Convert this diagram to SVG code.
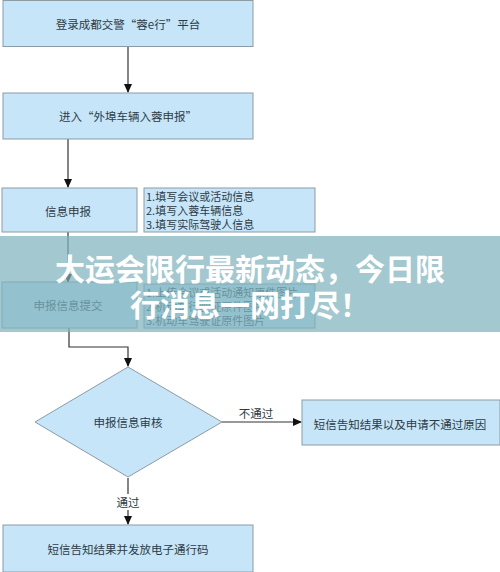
<svg xmlns="http://www.w3.org/2000/svg" width="500" height="572" viewBox="0 0 500 572">
<style>
.box{fill:#c6e5f8;stroke:#8d9ba5;stroke-width:1}
.t{font-family:"Noto Sans CJK SC","Noto Sans",sans-serif;font-size:11.5px;fill:#2e3b45;text-anchor:middle;dominant-baseline:central}
.tl{font-family:"Noto Sans CJK SC","Noto Sans",sans-serif;font-size:11px;fill:#2e3b45}
.ln{fill:none;stroke:#333;stroke-width:1.2}
.title{font-family:"Noto Sans CJK SC","Noto Sans",sans-serif;font-size:30px;font-weight:bold;fill:#fff;text-anchor:middle}
</style>
<defs>
<marker id="ah" markerWidth="10" markerHeight="10" refX="8" refY="5" orient="auto" markerUnits="userSpaceOnUse">
<path d="M0,1 L9,5 L0,9 Z" fill="#111"/>
</marker>
</defs>
<rect width="500" height="572" fill="#fff"/>
<g id="connectors">
<path class="ln" d="M128,47 V92" marker-end="url(#ah)"/>
<path class="ln" d="M68,139 V187" marker-end="url(#ah)"/>
<path class="ln" d="M68,232 V282" marker-end="url(#ah)"/>
<path class="ln" d="M69,328 V347 H128 V366" marker-end="url(#ah)"/>
<path class="ln" d="M222,422 H301" marker-end="url(#ah)"/>
<text class="t" x="256" y="413">不通过</text>
<path class="ln" d="M128,478 V524" marker-end="url(#ah)"/>
<rect x="114" y="494" width="28" height="16" fill="#fff"/>
<text class="t" x="128" y="502">通过</text>
</g>
<g id="n1"><rect class="box" x="3" y="0.5" width="250" height="46"/><text class="t" x="128" y="24">登录成都交警“蓉e行”平台</text></g>
<g id="n2"><rect class="box" x="3" y="93" width="250" height="46"/><text class="t" x="128" y="116">进入“外埠车辆入蓉申报”</text></g>
<g id="n3"><rect class="box" x="2" y="188" width="135" height="44"/><text class="t" x="68" y="211">信息申报</text></g>
<g id="n3b"><rect class="box" x="144" y="188" width="171" height="44"/>
<text class="tl" x="146" y="201">1.填写会议或活动信息</text>
<text class="tl" x="146" y="215">2.填写入蓉车辆信息</text>
<text class="tl" x="146" y="229">3.填写实际驾驶人信息</text></g>
<g id="n4"><rect class="box" x="2" y="282" width="135" height="46"/><text class="t" x="68" y="305">申报信息提交</text></g>
<g id="n4b"><rect class="box" x="144" y="284" width="171" height="44"/>
<text class="tl" x="146" y="297">1.上传会议或活动通知原件图片</text>
<text class="tl" x="146" y="311">2.机动车行驶证原件图片</text>
<text class="tl" x="146" y="325">3.机动车驾驶证原件图片</text></g>
<g id="n5"><path class="box" d="M128,367 L222,422 L128,477 L35,422 Z"/><text class="t" x="128" y="422">申报信息审核</text></g>
<g id="n6"><rect class="box" x="302" y="400" width="198" height="45"/><text class="t" x="400" y="424">短信告知结果以及申请不通过原因</text></g>
<g id="n7"><rect class="box" x="3" y="525" width="250" height="47"/><text class="t" x="128" y="549">短信告知结果并发放电子通行码</text></g>
<g id="banner">
<rect x="0" y="236" width="500" height="96" fill="#7fb3bc" fill-opacity="0.72"/>
<text class="title" x="250" y="280">大运会限行最新动态，今日限</text>
<text class="title" x="250" y="316">行消息一网打尽！</text>
</g>
</svg>
